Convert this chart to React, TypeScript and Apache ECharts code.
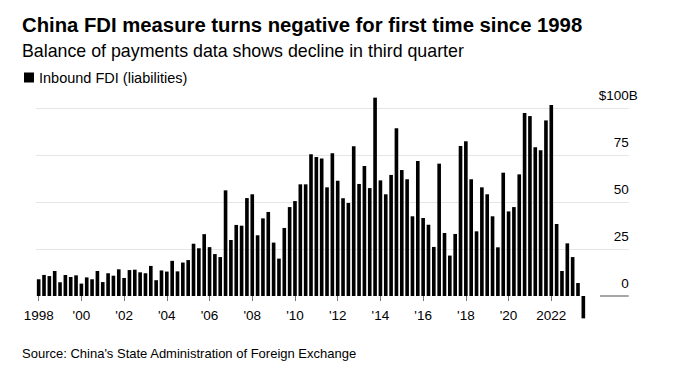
import { useEffect, useRef } from "react";
import * as echarts from "echarts";

// Quarterly inbound FDI (liabilities), $ billions
const fdi1998to2002 = [
  8.9, 11.2, 10.6, 13.3, 7.3, 11.2, 10.1, 11.0, 6.6, 9.9, 8.9, 13.3,
  7.4, 12.1, 10.8, 14.2, 9.6, 13.8, 14.0, 12.6,
];
const fdi2003to2007 = [
  12.1, 16.0, 8.4, 13.6, 13.0, 18.7, 13.1, 17.8, 19.1, 27.8, 25.4, 32.9,
  26.0, 22.3, 20.7, 56.2, 29.8, 37.8, 37.4, 52.1,
];
const fdi2008to2012 = [
  54.1, 32.3, 41.3, 44.7, 28.4, 19.9, 36.2, 47.3, 50.5, 59.4, 59.4, 75.4,
  73.9, 73.2, 57.8, 75.9, 61.3, 52.0, 49.5, 79.6,
];
const fdi2013to2017 = [
  59.6, 69.1, 57.4, 105.5, 61.5, 54.1, 64.4, 89.2, 67.0, 62.1, 42.4, 71.8,
  41.5, 37.9, 26.1, 70.4, 33.5, 21.5, 33.0, 79.8,
];
const fdi2018to2023 = [
  82.3, 62.1, 34.4, 57.8, 54.1, 42.4, 25.9, 65.6, 45.0, 47.3, 64.7, 97.3,
  95.7, 79.1, 77.5, 93.4, 101.6, 38.3, 13.3, 28.0, 20.7, 6.9, -11.9,
];
const fdiValues = [
  ...fdi1998to2002,
  ...fdi2003to2007,
  ...fdi2008to2012,
  ...fdi2013to2017,
  ...fdi2018to2023,
];

const firstYear = 1998;
const quarterNames = ["Q1", "Q2", "Q3", "Q4"];
const quarters = fdiValues.map(
  (_, i) => `${firstYear + Math.floor(i / 4)} ${quarterNames[i % 4]}`
);
const fullYearLabels = [1998, 2022];
const yTicks = [0, 25, 50, 75, 100];

const FONT = "'Liberation Sans', Arial, Helvetica, sans-serif";

export default function App() {
  const ref = useRef<HTMLDivElement>(null);

  useEffect(() => {
    if (!ref.current) return;
    const chart = echarts.init(ref.current, null, { renderer: "svg" });
    const gridTop = 61;
    const pxPerUnit = 1.88;
    chart.setOption({
      animation: false,
      backgroundColor: "#fff",
      textStyle: { fontFamily: FONT },
      title: [
        {
          text: "China FDI measure turns negative for first time since 1998",
          left: 22,
          top: 14.5,
          padding: 0,
          textStyle: {
            fontFamily: FONT,
            fontSize: 20.3,
            fontWeight: "bold",
            color: "#000",
            lineHeight: 21,
          },
        },
        {
          text: "Balance of payments data shows decline in third quarter",
          left: 22,
          top: 41.8,
          padding: 0,
          textStyle: {
            fontFamily: FONT,
            fontSize: 17.8,
            fontWeight: "normal",
            color: "#000",
            lineHeight: 19,
          },
        },
        {
          text: "Source: China's State Administration of Foreign Exchange",
          left: 22,
          top: 346.5,
          padding: 0,
          textStyle: {
            fontFamily: FONT,
            fontSize: 13,
            fontWeight: "normal",
            color: "#000",
            lineHeight: 14,
          },
        },
      ],
      legend: {
        left: 24,
        top: 70,
        padding: 0,
        itemWidth: 10,
        itemHeight: 10,
        icon: "rect",
        selectedMode: false,
        textStyle: { fontFamily: FONT, fontSize: 14.5, color: "#000", lineHeight: 14.5 },
        data: ["Inbound FDI (liabilities)"],
      },
      grid: [
        { left: 36, width: 592.7, top: gridTop, height: 150 * pxPerUnit },
        { left: 36, width: 550, top: gridTop, height: 125 * pxPerUnit },
      ],
      xAxis: [
        { gridIndex: 0, type: "value", min: 0, max: 1, show: false },
        {
          gridIndex: 1,
          type: "category",
          data: quarters,
          axisLine: { show: false, onZero: false },
          axisTick: {
            show: true,
            alignWithLabel: true,
            length: 5,
            interval: (index: number) => index % 8 === 0,
            lineStyle: { color: "#777", width: 1 },
          },
          axisLabel: {
            interval: (index: number) => index % 8 === 0,
            margin: 12,
            fontFamily: FONT,
            fontSize: 13.5,
            lineHeight: 14,
            color: "#000",
            formatter: (v: string) => {
              const y = Number(v.slice(0, 4));
              return fullYearLabels.includes(y) ? String(y) : "'" + String(y).slice(2);
            },
          },
        },
      ],
      yAxis: [
        {
          gridIndex: 0,
          type: "value",
          position: "right",
          min: -25,
          max: 125,
          interval: 25,
          axisLine: { show: false },
          axisTick: { show: false },
          axisLabel: {
            inside: true,
            margin: -9,
            verticalAlign: "bottom",
            padding: [0, 0, 6, 0],
            formatter: (v: number) => {
              if (!yTicks.includes(v)) return "";
              return v === 100 ? `{n|$${v}}{s|B}` : `{n|${v}}{h|B}`;
            },
            rich: {
              n: { fontFamily: FONT, fontSize: 13.5, color: "#000", lineHeight: 14 },
              s: { fontFamily: FONT, fontSize: 13.5, color: "#000", lineHeight: 14 },
              h: { fontFamily: FONT, fontSize: 13.5, color: "rgba(0,0,0,0)", lineHeight: 14 },
            },
          },
          splitLine: {
            show: true,
            showMinLine: true,
            showMaxLine: true,
            lineStyle: {
              width: 1,
              color: [
                "rgba(0,0,0,0)",
                "rgba(0,0,0,0)",
                "#e5e5e5",
                "#e5e5e5",
                "#e5e5e5",
                "#e5e5e5",
                "rgba(0,0,0,0)",
              ],
            },
          },
        },
        { gridIndex: 1, type: "value", min: 0, max: 125, interval: 25, show: false },
      ],
      series: [
        {
          name: "Inbound FDI (liabilities)",
          type: "bar",
          xAxisIndex: 1,
          yAxisIndex: 1,
          data: fdiValues,
          barWidth: "68%",
          clip: false,
          itemStyle: { color: "#000" },
        },
      ],
    });

    const y0 = chart.convertToPixel({ yAxisIndex: 0 }, 0) as number;
    chart.setOption({
      graphic: [
        {
          type: "line",
          shape: { x1: 600, y1: y0, x2: 628.7, y2: y0 },
          style: { stroke: "#8a8a8a", lineWidth: 1.5 },
          silent: true,
        },
      ],
    });

    return () => chart.dispose();
  }, []);

  return (
    <div
      ref={ref}
      style={{ position: "absolute", left: 0, top: 0, width: 676, height: 374, background: "#fff" }}
    />
  );
}
